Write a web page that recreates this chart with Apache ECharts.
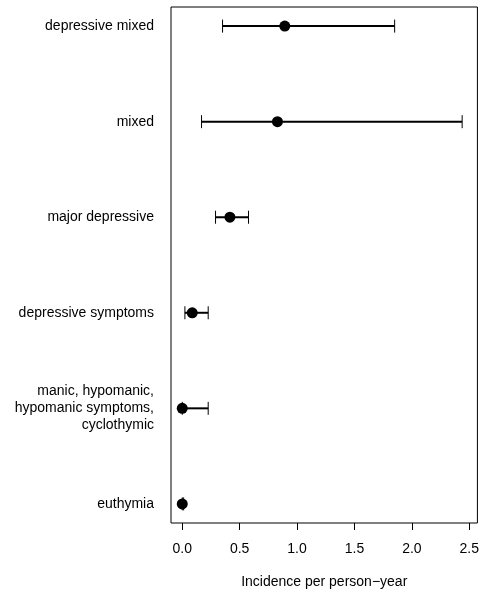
<!DOCTYPE html>
<html><head><meta charset="utf-8">
<script src="https://cdn.jsdelivr.net/npm/echarts@6/dist/echarts.min.js"></script>
<style>html,body{margin:0;padding:0;background:#fff}#c{width:482px;height:596px}</style>
</head><body><div id="c"></div>
<script>
var categories = ["depressive mixed", "mixed", "major depressive", "depressive symptoms", "manic, hypomanic,\nhypomanic symptoms,\ncyclothymic", "euthymia"];
var estimates = [0.893, 0.829, 0.415, 0.087, 0.0, 0.0];
var lowers = [0.351, 0.168, 0.29, 0.023, 0.0, 0.0];
var uppers = [1.85, 2.438, 0.577, 0.226, 0.226, 0.012];
var xTicks = [0, 0.5, 1.0, 1.5, 2.0, 2.5];

var n = categories.length;
function ypos(i){ return n - i; }
var pts = estimates.map(function(v,i){ return [v, ypos(i)]; });
var bars = lowers.map(function(lo,i){ return [lo, uppers[i], ypos(i)]; });

var chart = echarts.init(document.getElementById('c'), null, {renderer:'canvas'});
var font = 'Liberation Sans, Arial, Helvetica, sans-serif';
chart.setOption({
  animation:false,
  textStyle:{fontFamily:font},
  grid:{left:171, right:4, top:7, bottom:73, show:true, borderColor:'#000', borderWidth:1, backgroundColor:'transparent'},
  xAxis:{type:'value', min:-0.098, max:2.571,
    name:'Incidence per person\u2212year', nameLocation:'middle', nameGap:52,
    nameTextStyle:{fontSize:14, color:'#000', fontFamily:font},
    axisLine:{show:false},
    splitLine:{show:false},
    axisTick:{show:true, length:7, lineStyle:{color:'#000'}, customValues:xTicks},
    axisLabel:{fontSize:14, color:'#000', margin:19, fontFamily:font, customValues:xTicks,
      formatter:function(v){ return v.toFixed(1); }}
  },
  yAxis:{type:'value', min:0.8, max:6.2,
    axisLine:{show:false}, splitLine:{show:false}, axisTick:{show:false},
    axisLabel:{fontSize:14, color:'#000', margin:17, fontFamily:font, lineHeight:17,
      customValues:categories.map(function(c,i){return ypos(i);}),
      formatter:function(v){ var i = n - Math.round(v); return categories[i] || ''; }}
  },
  series:[
    {type:'custom', data:bars, encode:{x:[0,1], y:2},
      renderItem:function(params, api){
        var a = api.coord([api.value(0), api.value(2)]);
        var b = api.coord([api.value(1), api.value(2)]);
        var h = 6.5;
        return {type:'group', children:[
          {type:'line', shape:{x1:a[0], y1:a[1], x2:b[0], y2:b[1]}, style:{stroke:'#000', lineWidth:2}},
          {type:'line', shape:{x1:a[0], y1:a[1]-h, x2:a[0], y2:a[1]+h}, style:{stroke:'#000', lineWidth:1}},
          {type:'line', shape:{x1:b[0], y1:b[1]-h, x2:b[0], y2:b[1]+h}, style:{stroke:'#000', lineWidth:1}}
        ]};
      }},
    {type:'scatter', data:pts, symbol:'circle', symbolSize:11, itemStyle:{color:'#000', opacity:1}, z:5}
  ]
});
</script></body></html>
